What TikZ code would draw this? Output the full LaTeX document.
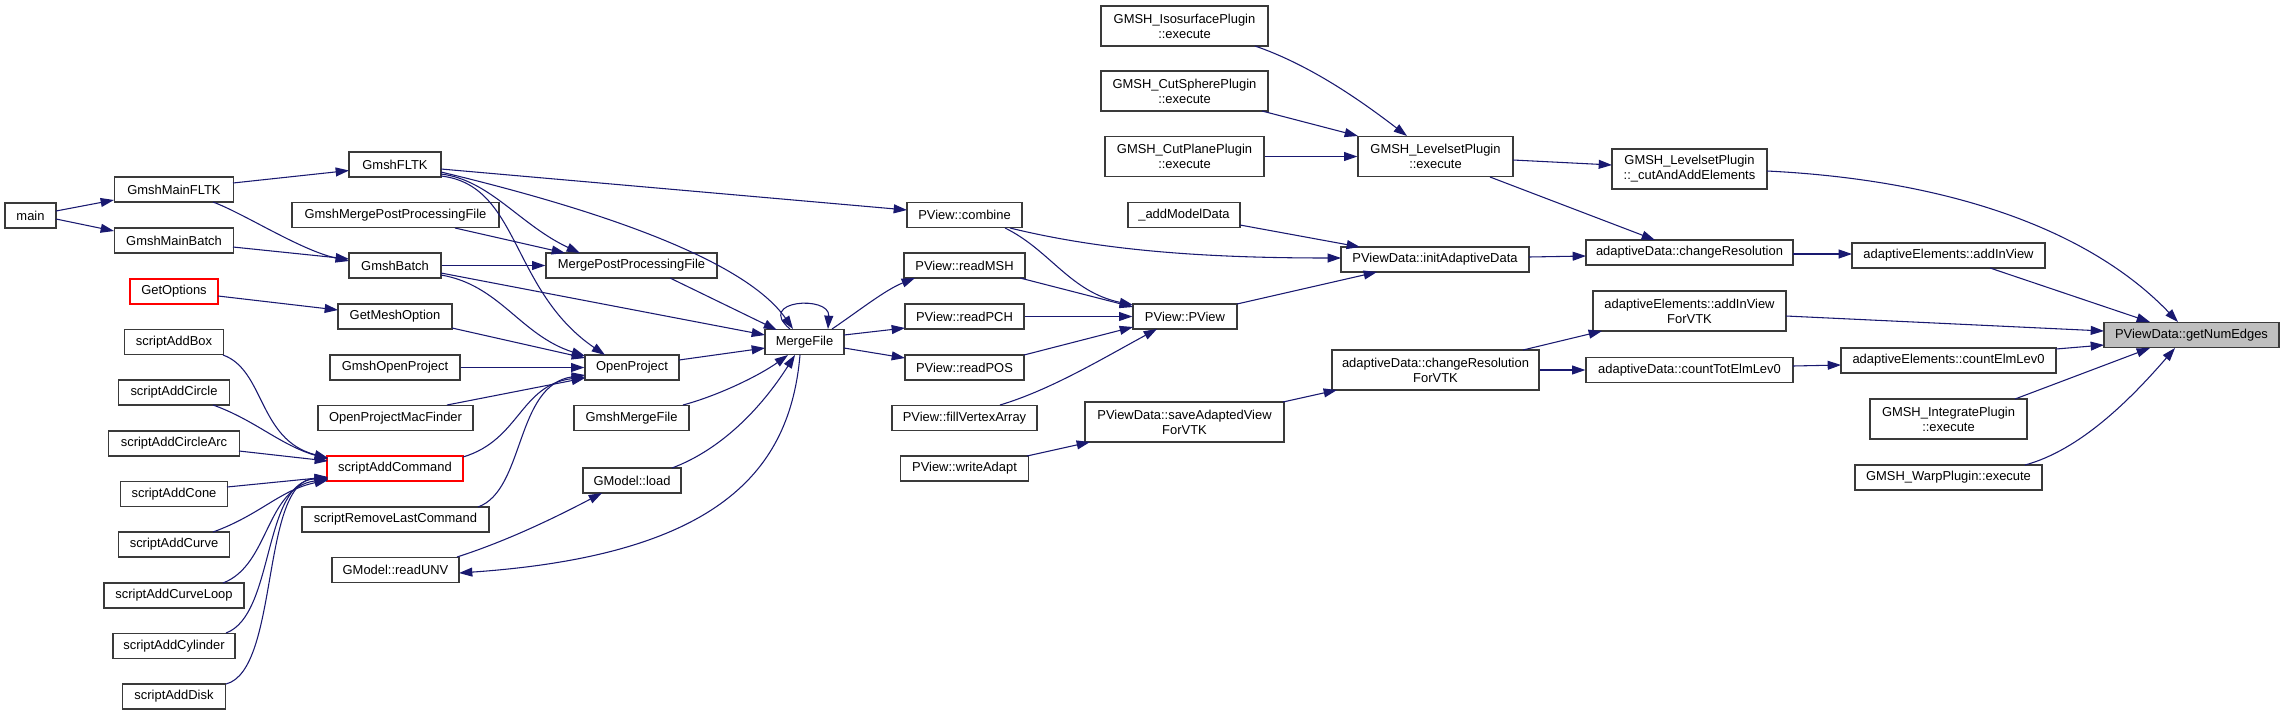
\documentclass[tikz,border=0pt]{standalone}
\usepackage{fontspec}
\setmainfont{Liberation Sans}
\usetikzlibrary{arrows.meta,calc}
\definecolor{edgec}{HTML}{191970}
\definecolor{bordc}{HTML}{3A3A3A}
\definecolor{hilite}{HTML}{BFBFBF}
\tikzset{
  nd/.style={draw=bordc, line width=0.9pt, fill=white, inner sep=0pt, minimum height=25*0.75pt,
    font=\fontsize{9.7}{11.2}\selectfont, align=center, text=black},
  nd2/.style={nd, minimum height=40*0.75pt},
  bw/.style={minimum width=#1*0.75pt},
  redn/.style={draw=red},
  ed/.style={draw=edgec, line width=0.8pt, -{Triangle[length=10pt,width=6.7pt]}},
}
\begin{document}
\begin{tikzpicture}[x=0.75pt,y=-0.75pt]
\useasboundingbox (0,0) rectangle (2284,715);
\fill[white] (0,0) rectangle (2284,715);
% column 1-2
\node[nd,bw=51] (main) at (30.5,215.5) {main};
\node[nd,bw=119] (mFLTK) at (174,189.5) {GmshMainFLTK};
\node[nd,bw=119] (mBatch) at (174,240.5) {GmshMainBatch};
\node[nd,redn,bw=88] (getopt) at (174,291.5) {GetOptions};
\node[nd,bw=99] (sBox) at (174,342) {scriptAddBox};
\node[nd,bw=111] (sCircle) at (174,392.5) {scriptAddCircle};
\node[nd,bw=131] (sArc) at (174,443.5) {scriptAddCircleArc};
\node[nd,bw=107] (sCone) at (174,494) {scriptAddCone};
\node[nd,bw=111] (sCurve) at (174,544.5) {scriptAddCurve};
\node[nd,bw=140] (sLoop) at (174,595.5) {scriptAddCurveLoop};
\node[nd,bw=122] (sCyl) at (174,646) {scriptAddCylinder};
\node[nd,bw=103] (sDisk) at (174,696.5) {scriptAddDisk};
% column 3
\node[nd,bw=92] (gFLTK) at (395,164.5) {GmshFLTK};
\node[nd,bw=207] (gMPPF) at (395.5,215) {GmshMergePostProcessingFile};
\node[nd,bw=92] (gBatch) at (395,265.5) {GmshBatch};
\node[nd,bw=114] (gMeshOpt) at (395,316.5) {GetMeshOption};
\node[nd,bw=130] (gOpenProj) at (395,367.5) {GmshOpenProject};
\node[nd,bw=155] (opMac) at (395.5,418) {OpenProjectMacFinder};
\node[nd,redn,bw=136] (sCmd) at (395,468.5) {scriptAddCommand};
\node[nd,bw=187] (sRemove) at (395.5,519.5) {scriptRemoveLastCommand};
\node[nd,bw=127] (readUNV) at (395.5,570) {GModel::readUNV};
% column 4-5
\node[nd,bw=171] (MPPF) at (631.5,265.5) {MergePostProcessingFile};
\node[nd,bw=94] (OpenProj) at (632,367.5) {OpenProject};
\node[nd,bw=115] (gMerge) at (631.5,418) {GmshMergeFile};
\node[nd,bw=98] (load) at (632,480.5) {GModel::load};
\node[nd,bw=79] (MergeFile) at (804.5,342) {MergeFile};
% column 6
\node[nd,bw=115] (combine) at (964.5,215) {PView::combine};
\node[nd,bw=121] (readMSH) at (964.5,265.5) {PView::readMSH};
\node[nd,bw=119] (readPCH) at (964.5,316.5) {PView::readPCH};
\node[nd,bw=119] (readPOS) at (964.5,367.5) {PView::readPOS};
\node[nd,bw=145] (fillVA) at (964.5,418) {PView::fillVertexArray};
\node[nd,bw=128] (writeAdapt) at (964.5,468.5) {PView::writeAdapt};
% column 7
\node[nd2,bw=167] (iso) at (1184.5,26) {GMSH\_IsosurfacePlugin\\::execute};
\node[nd2,bw=167] (sphere) at (1184.5,91) {GMSH\_CutSpherePlugin\\::execute};
\node[nd2,bw=159] (plane) at (1184.5,156.5) {GMSH\_CutPlanePlugin\\::execute};
\node[nd,bw=112] (addModel) at (1184,215) {\_addModelData};
\node[nd,bw=104] (pview) at (1185,316.5) {PView::PView};
\node[nd2,bw=199] (saveVTK) at (1184.5,422) {PViewData::saveAdaptedView\\ForVTK};
% column 8
\node[nd2,bw=155] (levelset) at (1435.5,156.5) {GMSH\_LevelsetPlugin\\::execute};
\node[nd,bw=188] (initAD) at (1435,259.5) {PViewData::initAdaptiveData};
\node[nd2,bw=207] (chResVTK) at (1435.5,370) {adaptiveData::changeResolution\\ForVTK};
% column 9
\node[nd2,bw=155] (cutAdd) at (1689.5,169) {GMSH\_LevelsetPlugin\\::\_cutAndAddElements};
\node[nd,bw=207] (chRes) at (1689.5,252.5) {adaptiveData::changeResolution};
\node[nd2,bw=193] (addVTK) at (1689.5,311) {adaptiveElements::addInView\\ForVTK};
\node[nd,bw=207] (countTot) at (1689.5,370) {adaptiveData::countTotElmLev0};
% column 10
\node[nd,bw=193] (addInView) at (1948.5,255.5) {adaptiveElements::addInView};
\node[nd,bw=215] (countElm) at (1948.5,360.5) {adaptiveElements::countElmLev0};
\node[nd2,bw=157] (integ) at (1948.5,419) {GMSH\_IntegratePlugin\\::execute};
\node[nd,bw=187] (warp) at (1948.5,477.5) {GMSH\_WarpPlugin::execute};
% column 11
\node[nd,bw=175,fill=hilite] (numEdges) at (2191.5,335) {PViewData::getNumEdges};

% edges
\draw[ed] ($(main)+(25.5,-4.5)$) -- ($(mFLTK)+(-60,10.5)$);
\draw[ed] ($(main)+(25.5,3.5)$) -- ($(mBatch)+(-60,-9.5)$);
\draw[ed] ($(mFLTK)+(59,-6.5)$) -- ($(gFLTK)+(-46,6)$);
\draw[ed] ($(mFLTK)+(39,12.5)$) .. controls +(32,12) and +(-49,-11) .. ($(gBatch)+(-46,-4.5)$);
\draw[ed] ($(mBatch)+(59,6.5)$) -- ($(gBatch)+(-46,-6.5)$);
\draw[ed] ($(getopt)+(44,4.5)$) -- ($(gMeshOpt)+(-57,-6.5)$);
\draw[ed] ($(gFLTK)+(46,4.5)$) -- ($(combine)+(-57.5,-5)$);
\draw[ed] ($(gFLTK)+(46,7.5)$) .. controls +(159,38) and +(-48,-69) .. ($(MergeFile)+(-11.5,-13)$);
\draw[ed] ($(gFLTK)+(46,9.5)$) .. controls +(49,6) and +(-60,-28) .. ($(MPPF)+(-51.5,-12.5)$);
\draw[ed] ($(gFLTK)+(46,11.5)$) .. controls +(79,9) and +(-95,-65) .. ($(OpenProj)+(-27,-12.5)$);
\draw[ed] ($(gMPPF)+(59.5,13)$) -- ($(MPPF)+(-66.5,-12.5)$);
\draw[ed] (gBatch.east) -- (MPPF.west);
\draw[ed] ($(gBatch)+(46,7.5)$) -- ($(MergeFile)+(-39.5,-7)$);
\draw[ed] ($(gBatch)+(46,9.5)$) .. controls +(59,10) and +(-65,-21) .. ($(OpenProj)+(-47,-11.5)$);
\draw[ed] ($(gMeshOpt)+(57,11.5)$) -- ($(OpenProj)+(-47,-9.5)$);
\draw[ed] (gOpenProj.east) -- (OpenProj.west);
\draw[ed] ($(opMac)+(51.5,-13)$) -- ($(OpenProj)+(-47,10.5)$);
\draw[ed] ($(sCmd)+(68,-11.5)$) .. controls +(57,-17) and +(-65,8) .. ($(OpenProj)+(-47,9.5)$);
\draw[ed] ($(sRemove)+(82.5,-12.5)$) .. controls +(47,-17) and +(-70,10) .. ($(OpenProj)+(-47,7.5)$);
\draw[ed] ($(MPPF)+(38.5,12.5)$) -- ($(MergeFile)+(-27.5,-12)$);
\draw[ed] ($(OpenProj)+(47,-7.5)$) -- ($(MergeFile)+(-39.5,6)$);
\draw[ed] ($(gMerge)+(51.5,-13)$) .. controls +(37,-10) and +(-28,20) .. ($(MergeFile)+(-16.5,13)$);
\draw[ed] ($(load)+(40,-12.5)$) .. controls +(48,-18) and +(-35,55) .. ($(MergeFile)+(-9.5,13)$);
\draw[ed] ($(MergeFile)+(-14.5,-13)$) .. controls +(-35,-29) and +(2,-34) .. ($(MergeFile)+(23.5,-13)$);
\draw[ed] ($(MergeFile)+(-4.5,13)$) .. controls +(-10,115) and +(261,-18) .. ($(readUNV)+(63.5,3)$);
\draw[ed] ($(readUNV)+(61.5,-13)$) .. controls +(53,-17) and +(-42,22) .. ($(load)+(-30,12.5)$);
\draw[ed] ($(MergeFile)+(27.5,-13)$) .. controls +(28,-19) and +(-30,12) .. ($(readMSH)+(-49.5,12.5)$);
\draw[ed] ($(MergeFile)+(39.5,-7)$) -- ($(readPCH)+(-59.5,11.5)$);
\draw[ed] ($(MergeFile)+(39.5,6)$) -- ($(readPOS)+(-59.5,-9.5)$);
% scripts
\draw[ed] ($(sBox)+(49,13)$) .. controls +(42,15) and +(-70,-18) .. ($(sCmd)+(-67,-10.5)$);
\draw[ed] ($(sCircle)+(39,12.5)$) .. controls +(42,15) and +(-48,-14) .. ($(sCmd)+(-67,-9.5)$);
\draw[ed] ($(sArc)+(65,7.5)$) -- ($(sCmd)+(-67,-7.5)$);
\draw[ed] ($(sCone)+(53,-7)$) -- ($(sCmd)+(-67,8.5)$);
\draw[ed] ($(sCurve)+(39,-12.5)$) .. controls +(47,-17) and +(-48,10) .. ($(sCmd)+(-67,11.5)$);
\draw[ed] ($(sLoop)+(49,-12.5)$) .. controls +(47,-18) and +(-63,9) .. ($(sCmd)+(-67,10.5)$);
\draw[ed] ($(sCyl)+(52,-13)$) .. controls +(49,-18) and +(-66,4) .. ($(sCmd)+(-67,9.5)$);
\draw[ed] ($(sDisk)+(52,-12.5)$) .. controls +(54,-14) and +(-68,2) .. ($(sCmd)+(-67,9.5)$);
% PView column
\draw[ed] ($(combine)+(45.5,13)$) .. controls +(90,22) and +(-141,0) .. ($(initAD)+(-94,-1.5)$);
\draw[ed] ($(combine)+(40.5,13)$) .. controls +(45,22) and +(-63,-13) .. ($(pview)+(-52,-11.5)$);
\draw[ed] ($(readMSH)+(55.5,12.5)$) -- ($(pview)+(-52,-9.5)$);
\draw[ed] (readPCH.east) -- (pview.west);
\draw[ed] ($(readPOS)+(59.5,-12.5)$) -- ($(pview)+(-52,10.5)$);
\draw[ed] ($(fillVA)+(35.5,-13)$) .. controls +(50,-15) and +(-57,31) .. ($(pview)+(-28,12.5)$);
\draw[ed] ($(writeAdapt)+(62.5,-12.5)$) -- ($(saveVTK)+(-94.5,20)$);
\draw[ed] ($(addModel)+(56,10)$) -- ($(initAD)+(-75,-12.5)$);
\draw[ed] ($(pview)+(52,-12.5)$) -- ($(initAD)+(-58,12.5)$);
\draw[ed] ($(saveVTK)+(98.5,-20)$) -- ($(chResVTK)+(-98.5,20)$);
% plugins
\draw[ed] ($(iso)+(70.5,20)$) .. controls +(55,19) and +(-47,-36) .. ($(levelset)+(-28.5,-20.5)$);
\draw[ed] ($(sphere)+(77.5,20)$) -- ($(levelset)+(-77.5,-20.5)$);
\draw[ed] (plane.east) -- (levelset.west);
\draw[ed] ($(levelset)+(77.5,3.5)$) -- ($(cutAdd)+(-77.5,-4)$);
\draw[ed] ($(levelset)+(54.5,20.5)$) -- ($(chRes)+(-34.5,-12.5)$);
\draw[ed] ($(initAD)+(94,-2.5)$) -- ($(chRes)+(-103.5,3.5)$);
\draw[ed] ($(chResVTK)+(87.5,-20)$) -- ($(addVTK)+(-87.5,20)$);
\draw[ed] (chResVTK.east) -- (countTot.west);
\draw[ed] ($(chRes)+(103.5,1.5)$) -- ($(addInView)+(-96.5,-1.5)$);
\draw[ed] ($(countTot)+(103.5,-4)$) -- ($(countElm)+(-107.5,4.5)$);
% into getNumEdges
\draw[ed] ($(cutAdd)+(77.5,2)$) .. controls +(183,9) and +(-88,-92) .. ($(numEdges)+(-13.5,-13)$);
\draw[ed] ($(addInView)+(41.5,12.5)$) -- ($(numEdges)+(-41.5,-13)$);
\draw[ed] ($(addVTK)+(96.5,5)$) -- ($(numEdges)+(-87.5,-4)$);
\draw[ed] ($(countElm)+(107.5,-11.5)$) -- ($(numEdges)+(-87.5,10)$);
\draw[ed] ($(integ)+(66.5,-20)$) -- ($(numEdges)+(-41.5,13)$);
\draw[ed] ($(warp)+(76.5,-12.5)$) .. controls +(55,-15) and +(-45,52) .. ($(numEdges)+(-16.5,13)$);
\end{tikzpicture}
\end{document}
